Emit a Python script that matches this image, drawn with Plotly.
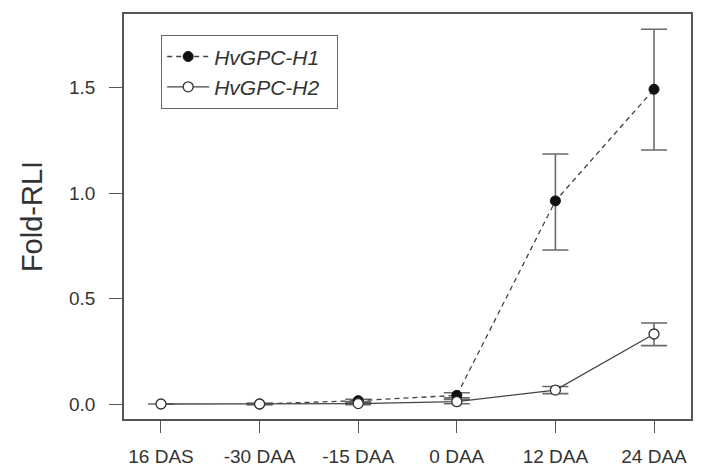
import plotly.graph_objects as go

categories = ["16 DAS", "-30 DAA", "-15 DAA", "0 DAA", "12 DAA", "24 DAA"]
x_idx = [0, 1, 2, 3, 4, 5]

h1_values = [None, 0.0, 0.016, 0.041, 0.963, 1.492]
h1_err_plus = [0, 0.003, 0.006, 0.012, 0.222, 0.285]
h1_err_minus = [0, 0.003, 0.006, 0.012, 0.233, 0.288]

h2_values = [0.0, 0.0, 0.002, 0.011, 0.066, 0.332]
h2_err_plus = [0, 0.002, 0.005, 0.010, 0.017, 0.052]
h2_err_minus = [0, 0.002, 0.005, 0.010, 0.017, 0.055]

y_ticks = [0.0, 0.5, 1.0, 1.5]
y_ticktext = ["0.0", "0.5", "1.0", "1.5"]

fig = go.Figure()

fig.add_trace(go.Scatter(
    x=x_idx, y=h1_values, mode="lines+markers", name="<i>HvGPC-H1</i>&nbsp;&nbsp;",
    line=dict(color="#444444", width=1.3, dash="5px,4px"),
    marker=dict(symbol="circle", size=10, color="#111111",
                line=dict(color="#111111", width=1)),
    error_y=dict(type="data", array=h1_err_plus, arrayminus=h1_err_minus,
                 color="#6a6a6a", thickness=1.6, width=13),
))
fig.add_trace(go.Scatter(
    x=x_idx, y=h2_values, mode="lines+markers", name="<i>HvGPC-H2</i>&nbsp;&nbsp;",
    line=dict(color="#444444", width=1.3),
    marker=dict(symbol="circle", size=10, color="white",
                line=dict(color="#333333", width=1.3)),
    error_y=dict(type="data", array=h2_err_plus, arrayminus=h2_err_minus,
                 color="#6a6a6a", thickness=1.6, width=13),
))

fig.update_layout(
    width=702, height=467,
    margin=dict(l=124, r=11, t=14, b=48),
    paper_bgcolor="white", plot_bgcolor="white",
    font=dict(family="Liberation Sans, Arial, sans-serif", color="#333333"),
    showlegend=True,
    legend=dict(
        x=0.065, y=0.948, xanchor="left", yanchor="top",
        bordercolor="#666666", borderwidth=1.3, bgcolor="white",
        font=dict(size=21, color="#333333", family="Liberation Sans, Arial, sans-serif"),
        itemwidth=42, tracegroupgap=0,
    ),
    xaxis=dict(
        range=[-0.375, 5.375], tickmode="array", tickvals=x_idx, ticktext=categories,
        showgrid=False, zeroline=False, showline=True, mirror=True,
        linecolor="#555555", linewidth=1.5, automargin=False,
        ticks="outside", ticklen=12, tickcolor="#555555", tickwidth=1.3,
        tickfont=dict(size=19, color="#333333"), ticklabelstandoff=7,
    ),
    yaxis=dict(
        range=[-0.0711, 1.849], tickmode="array", tickvals=y_ticks, ticktext=y_ticktext,
        showgrid=False, zeroline=False, showline=True, mirror=True,
        linecolor="#555555", linewidth=1.5, automargin=False,
        ticks="outside", ticklen=13, tickcolor="#555555", tickwidth=1.3,
        tickfont=dict(size=19, color="#333333"), ticklabelstandoff=10,
        title=dict(text="Fold-RLI", font=dict(size=29, color="#333333"), standoff=18),
    ),
)

fig.write_html("out.html", config={"displayModeBar": False},
               post_script="document.body.style.margin='0';document.body.style.padding='0';")
